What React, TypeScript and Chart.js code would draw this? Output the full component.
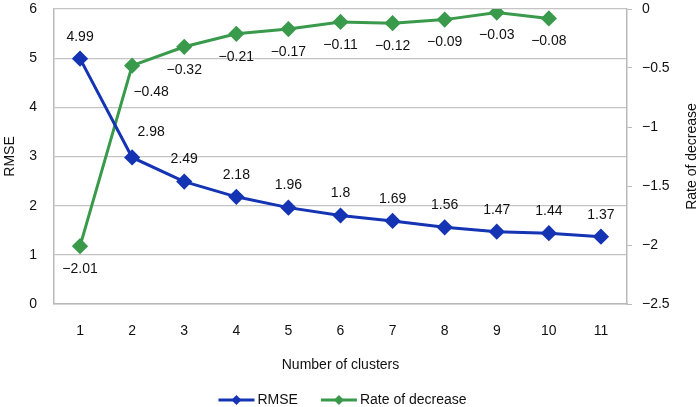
import React, { useEffect, useRef } from 'react';
import { Chart, registerables } from 'chart.js';

Chart.register(...registerables);

const clusters = ['1', '2', '3', '4', '5', '6', '7', '8', '9', '10', '11'];
const rmse = [4.99, 2.98, 2.49, 2.18, 1.96, 1.8, 1.69, 1.56, 1.47, 1.44, 1.37];
const rateOfDecrease = [-2.01, -0.48, -0.32, -0.21, -0.17, -0.11, -0.12, -0.09, -0.03, -0.08, null];
const rmseTicks = [0, 1, 2, 3, 4, 5, 6];
const rateTicks = [0, -0.5, -1, -1.5, -2, -2.5];

const BLUE = '#1434b4';
const GREEN = '#3a9a4c';
const AXIS = '#b9b9b9';
const GRID = '#c4c4c4';
const FONT = '"Liberation Sans", Arial, Helvetica, sans-serif';
const RIGHT_TITLE = 'Rate of decrease';

const fmt = (v: number) => (v < 0 ? '\u2212' + String(Math.abs(v)) : String(v));

function drawIcon(ctx: CanvasRenderingContext2D, x: number, y: number, color: string) {
  ctx.strokeStyle = color;
  ctx.lineWidth = 3;
  ctx.beginPath();
  ctx.moveTo(x, y);
  ctx.lineTo(x + 36, y);
  ctx.stroke();
  ctx.fillStyle = color;
  ctx.beginPath();
  ctx.moveTo(x + 18, y - 5);
  ctx.lineTo(x + 23, y);
  ctx.lineTo(x + 18, y + 5);
  ctx.lineTo(x + 13, y);
  ctx.closePath();
  ctx.fill();
}

const extras = {
  id: 'extras',
  afterDatasetsDraw(chart: any) {
    const ctx = chart.ctx;
    ctx.save();
    ctx.font = `14px ${FONT}`;
    ctx.fillStyle = '#111';
    ctx.textAlign = 'center';
    ctx.textBaseline = 'middle';
    chart.data.datasets.forEach((ds: any, di: number) => {
      const meta = chart.getDatasetMeta(di);
      meta.data.forEach((pt: any, i: number) => {
        const v = ds.data[i];
        if (v === null || v === undefined) return;
        const dx = i === 1 ? 19 : 0;
        const dy = ds.labelDy + (i === 1 ? (ds.labelDy < 0 ? -3 : 4) : 0);
        ctx.fillText(fmt(v), pt.x + dx, pt.y + dy);
      });
    });
    ctx.restore();
  },
  afterDraw(chart: any) {
    const ctx = chart.ctx;
    const area = chart.chartArea;
    ctx.save();
    ctx.font = `14px ${FONT}`;
    ctx.fillStyle = '#111';
    // right axis title, reading bottom to top
    ctx.translate(692, (area.top + area.bottom) / 2);
    ctx.rotate(-Math.PI / 2);
    ctx.textAlign = 'center';
    ctx.textBaseline = 'middle';
    ctx.fillText(RIGHT_TITLE, 0, 0);
    ctx.restore();

    // legend
    ctx.save();
    ctx.font = `14px ${FONT}`;
    ctx.textBaseline = 'middle';
    ctx.textAlign = 'left';
    const items = chart.data.datasets.map((ds: any) => ({ text: ds.label, color: ds.borderColor }));
    const gap = 3;
    const spacing = 23;
    const widths = items.map((it: any) => 36 + gap + ctx.measureText(it.text).width);
    const total = widths.reduce((a: number, b: number) => a + b, 0) + spacing * (items.length - 1);
    let x = (area.left + area.right) / 2 - total / 2 + 2;
    const y = 400;
    items.forEach((it: any, i: number) => {
      drawIcon(ctx, x, y, it.color);
      ctx.fillStyle = '#111';
      ctx.fillText(it.text, x + 36 + gap, y);
      x += widths[i] + spacing;
    });
    ctx.restore();
  },
};

export default function App() {
  const ref = useRef<HTMLCanvasElement | null>(null);

  useEffect(() => {
    if (!ref.current) return;
    Chart.defaults.font.family = FONT;
    Chart.defaults.font.size = 14;
    Chart.defaults.color = '#111';
    const chart = new Chart(ref.current, {
      type: 'line',
      data: {
        labels: clusters,
        datasets: [
          {
            label: 'RMSE',
            data: rmse,
            yAxisID: 'y',
            borderColor: BLUE,
            backgroundColor: BLUE,
            borderWidth: 3,
            tension: 0,
            labelDy: -22,
          } as any,
          {
            label: 'Rate of decrease',
            data: rateOfDecrease,
            yAxisID: 'y2',
            borderColor: GREEN,
            backgroundColor: GREEN,
            borderWidth: 3,
            tension: 0,
            labelDy: 23,
          } as any,
        ],
      },
      options: {
        animation: false,
        responsive: false,
        devicePixelRatio: 1,
        layout: { padding: { top: 9, left: 0, right: 0, bottom: 0 } },
        elements: {
          point: { pointStyle: 'rectRot', radius: 6, hoverRadius: 6, borderWidth: 0 },
        },
        plugins: {
          tooltip: { enabled: false },
          legend: { display: false },
        },
        scales: {
          x: {
            type: 'category',
            offset: true,
            grid: { display: false, drawTicks: false },
            border: { display: true, color: AXIS, width: 1.5 },
            ticks: { padding: 19, font: { size: 14 } },
            title: {
              display: true,
              text: 'Number of clusters',
              font: { size: 14 },
              padding: { top: 33, bottom: 33 },
            },
            afterFit: (s: any) => {
              s.height = 103;
            },
          },
          y: {
            position: 'left',
            min: 0,
            max: 6,
            afterBuildTicks: (s: any) => {
              s.ticks = rmseTicks.map((v) => ({ value: v }));
            },
            ticks: { padding: 17, font: { size: 14 }, callback: (v: any) => fmt(Number(v)) },
            grid: { color: GRID, lineWidth: 1.2, drawTicks: false },
            border: { display: true, color: AXIS, width: 1.5 },
            title: { display: true, text: 'RMSE', font: { size: 14 }, padding: { top: 2, bottom: 0 } },
            afterFit: (s: any) => {
              s.width = 54;
              s.paddingTop = 0;
              s.paddingBottom = 0;
            },
          },
          y2: {
            position: 'right',
            min: -2.5,
            max: 0,
            afterBuildTicks: (s: any) => {
              s.ticks = rateTicks.map((v) => ({ value: v }));
            },
            ticks: { padding: 10, font: { size: 14 }, callback: (v: any) => fmt(Number(v)) },
            grid: { drawOnChartArea: false, drawTicks: true, tickLength: 5, color: AXIS },
            border: { display: true, color: AXIS, width: 1.5 },
            afterFit: (s: any) => {
              s.width = 73;
              s.paddingTop = 0;
              s.paddingBottom = 0;
            },
          },
        },
      },
      plugins: [extras],
    });
    return () => chart.destroy();
  }, []);

  return (
    <div style={{ position: 'absolute', left: 0, top: 0, width: 700, height: 407, background: '#fff' }}>
      <canvas ref={ref} width={700} height={407} style={{ width: 700, height: 407, display: 'block' }} />
    </div>
  );
}
